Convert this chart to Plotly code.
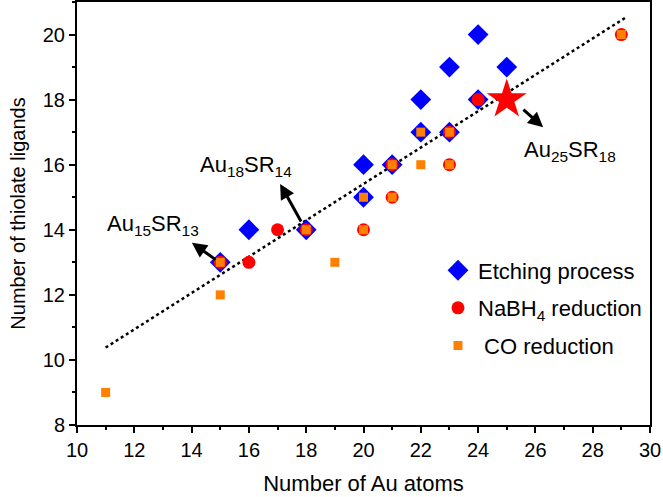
import plotly.graph_objects as go

# Etching process (blue diamonds)
etch_x = [15, 16, 18, 20, 20, 21, 22, 22, 23, 23, 24, 24, 25]
etch_y = [13, 14, 14, 15, 16, 16, 17, 18, 17, 19, 18, 20, 19]

# NaBH4 reduction (red circles)
nabh_x = [15, 16, 17, 18, 20, 21, 21, 23, 23, 24, 29]
nabh_y = [13, 13, 14, 14, 14, 15, 16, 16, 17, 18, 20]

# CO reduction (orange squares)
co_x = [11, 15, 15, 18, 19, 20, 20, 21, 21, 22, 22, 23, 23, 29]
co_y = [9, 12, 13, 14, 13, 14, 15, 15, 16, 16, 17, 16, 17, 20]

# Au25SR18 star
star_x = [25]
star_y = [18]

# linear trend line endpoints
fit_x = [11.0, 29.2]
fit_y = [10.38, 20.55]

x_ticks = [10, 12, 14, 16, 18, 20, 22, 24, 26, 28, 30]
y_ticks = [8, 10, 12, 14, 16, 18, 20]

FONT = "Liberation Sans, Arial, sans-serif"

fig = go.Figure()
fig.add_trace(go.Scatter(x=fit_x, y=fit_y, mode="lines",
                         line=dict(color="black", width=2.5, dash="dot"),
                         showlegend=False, hoverinfo="skip"))
fig.add_trace(go.Scatter(x=etch_x, y=etch_y, mode="markers", name="Etching process",
                         legendgroup="a",
                         marker=dict(symbol="diamond", size=16, color="#0000FF", line=dict(width=0))))
fig.add_trace(go.Scatter(x=nabh_x, y=nabh_y, mode="markers", name="NaBH<sub>4</sub> reduction",
                         legendgroup="b",
                         marker=dict(symbol="circle", size=13, color="#FF0000", line=dict(width=0))))
fig.add_trace(go.Scatter(x=co_x, y=co_y, mode="markers", name=" CO reduction",
                         legendgroup="c",
                         marker=dict(symbol="square", size=9, color="#FF8000", line=dict(width=0))))
fig.add_trace(go.Scatter(x=star_x, y=star_y, mode="markers", showlegend=False,
                         marker=dict(symbol="star", size=30, color="#FF0000", line=dict(width=0))))

arrows = [
    (14.89, 13.05, 14.01, 13.6),
    (17.85, 14.21, 17.09, 15.41),
    (25.53, 17.73, 26.27, 17.15),
]
for tx, ty, hx, hy in arrows:
    fig.add_annotation(x=hx, y=hy, ax=tx, ay=ty, xref="x", yref="y", axref="x", ayref="y",
                       text="", showarrow=True, arrowhead=2, arrowsize=1, arrowwidth=3,
                       arrowcolor="black")

labels = [
    (12.65, 14.15, "Au<sub>15</sub>SR<sub>13</sub>"),
    (15.9, 15.96, "Au<sub>18</sub>SR<sub>14</sub>"),
    (27.2, 16.42, "Au<sub>25</sub>SR<sub>18</sub>"),
]
for lx, ly, t in labels:
    fig.add_annotation(x=lx, y=ly, xref="x", yref="y", text=t, showarrow=False,
                       font=dict(family=FONT, size=22, color="black"))

axis_common = dict(showline=True, linecolor="black", linewidth=2, mirror=True,
                   ticks="outside", ticklen=6, tickwidth=1.5, tickcolor="black",
                   showgrid=False, zeroline=False, automargin=False,
                   tickfont=dict(family=FONT, size=20, color="black"),
                   minor=dict(ticks="outside", ticklen=3, tickwidth=1.5, tickcolor="black", dtick=1))

fig.update_xaxes(range=[10, 30], tickvals=x_ticks,
                 title=dict(text="Number of Au atoms", font=dict(family=FONT, size=22, color="black"), standoff=16),
                 **axis_common)
fig.update_yaxes(range=[8, 21], tickvals=y_ticks,
                 title=dict(text="Number of thiolate ligands", font=dict(family=FONT, size=20, color="black"), standoff=12),
                 **axis_common)

fig.update_layout(
    width=663, height=497,
    margin=dict(l=77, r=13, t=2, b=72, autoexpand=False),
    plot_bgcolor="white", paper_bgcolor="white",
    font=dict(family=FONT, color="black"),
    legend=dict(x=0.63, y=0.415, xanchor="left", yanchor="top",
                font=dict(family=FONT, size=22, color="black"),
                bgcolor="rgba(0,0,0,0)", tracegroupgap=6, itemsizing="trace"),
)

fig.write_html("out.html", config={"displayModeBar": False},
               post_script="document.body.style.margin='0';document.body.style.padding='0';")
